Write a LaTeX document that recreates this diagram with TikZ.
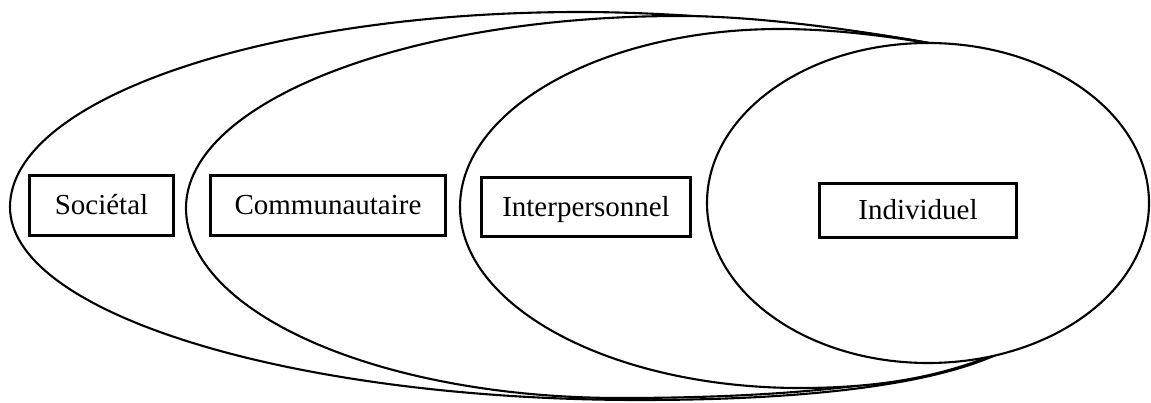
\documentclass[tikz,border=0pt]{standalone}
\usepackage{fontspec}
\setmainfont{Liberation Serif}
\begin{document}
\begin{tikzpicture}[x=1pt,y=-1pt,
  ring/.style={draw=black,fill=white,line width=2.1pt,line join=round},
  label/.style={draw=black,line width=2.7pt,inner sep=0pt,text height=19pt,text depth=0pt,
    font=\fontsize{29pt}{34pt}\selectfont}]
\useasboundingbox (0,0) rectangle (1151,403);
% Societal
\path[ring] (945,46) -- (1010,348) .. controls (940,386) and (800,400) .. (640,400)
  .. controls (292,400) and (10,313.6) .. (10,207)
  .. controls (10,99.3) and (265.2,12) .. (580,12)
  .. controls (700,12) and (860,29) .. (945,46) -- cycle;
% Communautaire
\path[ring] (945,46) -- (1010,348) .. controls (935,384) and (790,398) .. (620,398)
  .. controls (380.3,398) and (186,312.9) .. (186,208)
  .. controls (186,102) and (407.2,16) .. (680,16)
  .. controls (760,16) and (865,31) .. (945,46) -- cycle;
% Interpersonnel
\path[ring] (945,46) -- (1010,348) .. controls (960,370) and (900,388) .. (800,388)
  .. controls (612.2,388) and (460,307) .. (460,207)
  .. controls (460,108.7) and (603.3,29) .. (780,29)
  .. controls (840,29) and (900,38) .. (945,46) -- cycle;
% Individuel
\path[ring] (928,203) ellipse [x radius=221pt, y radius=160pt];
\node[label,minimum width=144pt,minimum height=60pt] (soc) at (101.5,205.5) {Sociétal};
\node[label,minimum width=235pt,minimum height=60pt] (com) at (328,205.5) {Communautaire};
\node[label,minimum width=209pt,minimum height=59pt] (int) at (586,207) {Interpersonnel};
\node[label,minimum width=197pt,minimum height=54pt] (ind) at (918,210.5) {Individuel};
\end{tikzpicture}
\end{document}
